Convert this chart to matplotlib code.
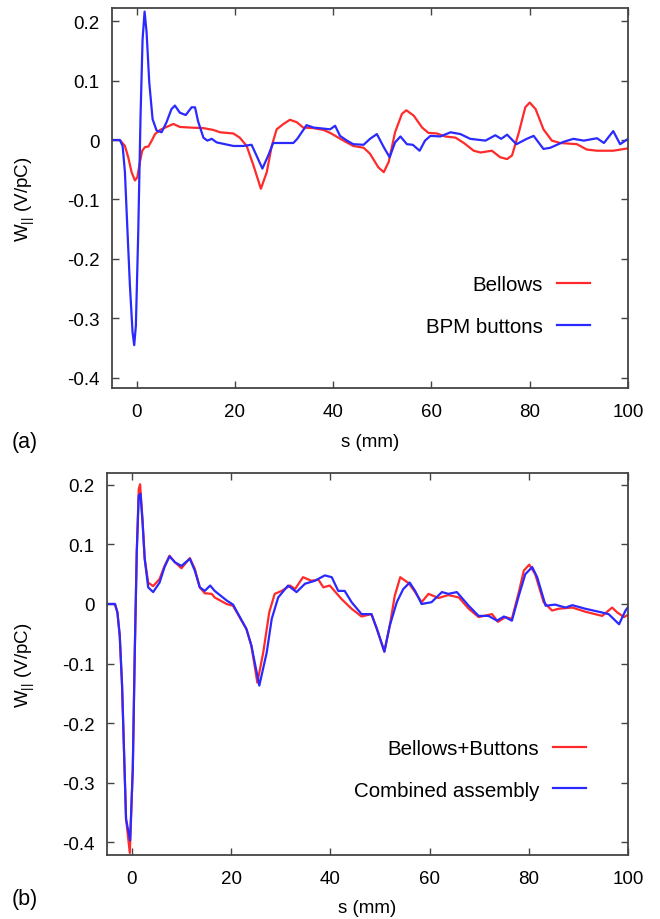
import numpy as np
import matplotlib
matplotlib.use("Agg")
import matplotlib.pyplot as plt

plt.rcParams["font.family"] = ["Liberation Sans", "DejaVu Sans"]
plt.rcParams["mathtext.fontset"] = "custom"
plt.rcParams["mathtext.rm"] = "Liberation Sans"
plt.rcParams["mathtext.default"] = "regular"

# (a) wake potentials, s in mm, W in V/pC
s_bellows = [-5, -3.4, -2.37, -1.7, -1.02, -0.34, 0.14, 0.68, 1.15, 1.7, 2.4, 3.08, 3.76, 4.8,
             6.1, 7.5, 8.8, 10.8, 13.6, 15.6, 17.0, 19.7, 21.0, 22.4, 23.8, 25.3, 26.5, 27.5,
             28.5, 29.9, 31.2, 32.6, 33.9, 36.0, 38.0, 39.4, 42.1, 44.1, 46.2, 47.5, 49.2,
             50.3, 51.3, 52.6, 54.0, 54.9, 56.4, 58.1, 59.4, 61.1, 62.8, 64.9, 66.6, 68.6,
             70.0, 72.3, 74.0, 75.4, 76.4, 77.8, 79.1, 80.0, 81.2, 82.8, 84.5, 86.2, 89.6,
             91.6, 93.7, 97.0, 100]
w_bellows = [0, 0, -0.010, -0.029, -0.054, -0.068, -0.063, -0.037, -0.018, -0.012, -0.011,
             -0.001, 0.010, 0.017, 0.022, 0.027, 0.022, 0.021, 0.020, 0.017, 0.013, 0.011,
             0.004, -0.010, -0.043, -0.082, -0.054, -0.010, 0.018, 0.027, 0.034, 0.030, 0.021,
             0.020, 0.017, 0.012, -0.001, -0.010, -0.013, -0.023, -0.046, -0.054, -0.037,
             0.013, 0.044, 0.050, 0.041, 0.021, 0.012, 0.011, 0.006, 0.004, -0.005, -0.018,
             -0.021, -0.018, -0.029, -0.032, -0.026, 0.013, 0.055, 0.063, 0.052, 0.018, -0.001,
             -0.005, -0.007, -0.016, -0.018, -0.018, -0.014]

s_bpm = [-5, -3.4, -2.84, -2.37, -1.9, -1.36, -0.82, -0.48, -0.14, 0.34, 0.81, 1.22, 1.63,
         2.04, 2.58, 3.26, 4.07, 5.09, 6.1, 7.1, 7.8, 8.8, 10.0, 11.2, 11.9, 12.5, 13.6, 14.4,
         15.3, 16.3, 19.7, 21.7, 23.4, 24.4, 25.6, 26.8, 27.8, 31.9, 32.7, 34.6, 36.0, 39.4,
         40.4, 41.4, 42.8, 44.1, 46.2, 47.5, 48.9, 50.3, 51.5, 52.6, 53.7, 55.0, 56.2, 57.6,
         58.7, 59.8, 61.8, 63.9, 65.9, 67.9, 71.0, 73.0, 74.2, 75.4, 77.3, 79.4, 80.8, 82.8,
         84.2, 86.9, 88.9, 91.0, 93.7, 95.1, 97.0, 98.4, 100]
w_bpm = [0, 0, -0.010, -0.054, -0.144, -0.244, -0.323, -0.345, -0.312, -0.155, 0.041, 0.169,
         0.216, 0.181, 0.097, 0.035, 0.016, 0.013, 0.030, 0.052, 0.058, 0.046, 0.042, 0.055,
         0.055, 0.032, 0.004, -0.001, 0.002, -0.004, -0.010, -0.010, -0.008, -0.026, -0.048,
         -0.026, -0.005, -0.005, 0.002, 0.025, 0.021, 0.018, 0.024, 0.007, -0.001, -0.007,
         -0.008, 0.002, 0.010, -0.012, -0.029, -0.004, 0.006, -0.007, -0.008, -0.018, -0.001,
         0.007, 0.006, 0.013, 0.010, 0.002, -0.001, 0.008, 0.002, 0.009, -0.007, 0.002, 0.007,
         -0.015, -0.013, -0.003, 0.002, -0.001, 0.003, -0.005, 0.015, -0.007, 0.002]

# (b) sum of single wakes vs. full assembly
s_sum = [-5, -3.4, -2.9, -2.43, -1.96, -1.56, -1.16, -0.4, 0.2, 0.6, 1.0, 1.4, 1.67, 2.15, 2.6,
         3.3, 4.3, 5.6, 6.6, 7.6, 8.7, 10.0, 11.7, 12.7, 13.7, 14.7, 16.1, 16.7, 19.1, 20.4,
         23.1, 24.1, 25.3, 26.5, 27.7, 28.8, 30.2, 31.9, 32.9, 34.5, 36.2, 37.6, 38.6, 39.9,
         42.3, 44.3, 46.3, 48.3, 49.4, 50.9, 52.0, 53.0, 54.1, 55.8, 57.1, 58.4, 59.8, 61.8,
         63.8, 65.9, 67.9, 69.9, 72.6, 73.8, 75.3, 76.6, 78.0, 79.0, 80.1, 81.3, 83.0, 84.7,
         86.0, 88.8, 91.4, 94.8, 96.8, 97.8, 99.2, 100]
w_sum = [0, 0, -0.014, -0.053, -0.137, -0.249, -0.361, -0.418, -0.277, -0.081, 0.087, 0.193,
         0.201, 0.143, 0.076, 0.036, 0.030, 0.042, 0.064, 0.081, 0.070, 0.060, 0.077, 0.059,
         0.028, 0.018, 0.017, 0.011, 0.000, -0.003, -0.042, -0.070, -0.132, -0.081, -0.014,
         0.017, 0.022, 0.031, 0.025, 0.045, 0.039, 0.041, 0.028, 0.031, 0.008, -0.008, -0.021,
         -0.017, -0.042, -0.080, -0.036, 0.014, 0.045, 0.035, 0.020, 0.003, 0.017, 0.010,
         0.015, 0.011, -0.008, -0.022, -0.017, -0.030, -0.022, -0.025, 0.020, 0.056, 0.066,
         0.050, 0.003, -0.011, -0.008, -0.006, -0.013, -0.020, -0.006, -0.014, -0.022, -0.018]

s_comb = [-5, -3.4, -2.9, -2.43, -1.96, -1.56, -1.16, -0.34, 0.2, 0.6, 1.0, 1.4, 1.75, 2.15,
          2.6, 3.3, 4.3, 5.6, 6.6, 7.6, 8.7, 10.0, 11.7, 12.7, 13.7, 14.7, 15.8, 16.7, 19.1,
          20.4, 23.1, 24.1, 25.7, 27.2, 28.2, 29.5, 31.5, 33.2, 34.9, 36.9, 38.9, 40.3, 41.6,
          42.9, 44.3, 46.3, 48.3, 49.4, 50.9, 52.0, 53.4, 54.7, 56.0, 57.1, 58.4, 60.4, 62.5,
          63.8, 65.5, 67.9, 69.9, 71.9, 73.6, 75.0, 76.6, 78.0, 79.3, 80.7, 81.7, 83.4, 85.3,
          87.4, 88.8, 91.4, 94.1, 96.1, 98.2, 99.5, 100]
w_comb = [0, 0, -0.014, -0.053, -0.137, -0.249, -0.361, -0.397, -0.277, -0.081, 0.087, 0.182,
          0.185, 0.140, 0.076, 0.028, 0.020, 0.036, 0.062, 0.080, 0.070, 0.064, 0.076, 0.056,
          0.028, 0.022, 0.031, 0.022, 0.006, -0.001, -0.042, -0.070, -0.137, -0.081, -0.025,
          0.011, 0.031, 0.020, 0.034, 0.039, 0.048, 0.045, 0.022, 0.022, 0.003, -0.017,
          -0.017, -0.042, -0.080, -0.036, 0.003, 0.025, 0.036, 0.022, 0.000, 0.003, 0.020,
          0.017, 0.020, -0.003, -0.020, -0.020, -0.028, -0.021, -0.028, 0.014, 0.050, 0.062,
          0.045, -0.003, -0.001, -0.006, -0.002, -0.008, -0.013, -0.017, -0.034, -0.011, -0.005]

xticks = [0, 20, 40, 60, 80, 100]
yticks = [-0.4, -0.3, -0.2, -0.1, 0, 0.1, 0.2]
ytick_labels = ["-0.4", "-0.3", "-0.2", "-0.1", "0", "0.1", "0.2"]

RED = "#ff2a2a"
BLUE = "#2a2aff"
FS = 13.5
LEG_FS = 14.8


def style_axes(ax, ylim, label_x):
    ax.set_xlim(-5, 100)
    ax.set_ylim(*ylim)
    ax.set_xticks(xticks)
    ax.set_yticks(yticks, labels=ytick_labels)
    ax.tick_params(direction="in", top=True, right=True, length=5, width=1,
                   color="#444444", labelsize=FS)
    ax.tick_params(axis="x", pad=11)
    ax.tick_params(axis="y", pad=9)
    for sp in ax.spines.values():
        sp.set_color("#444444")
        sp.set_linewidth(1.3)
    ax.set_xlabel("s (mm)", fontsize=FS, labelpad=9)
    ax.set_ylabel(r"W$_{||}$ (V/pC)", fontsize=FS)
    ax.yaxis.set_label_coords(label_x, 0.5)


fig = plt.figure(figsize=(6.6, 9.2), dpi=100)
ax1 = fig.add_axes([0.1697, 0.5772, 0.7818, 0.413])
ax2 = fig.add_axes([0.1621, 0.0699, 0.7894, 0.4149])

line_kw = dict(lw=1.6, solid_joinstyle="round")
ax1.plot(s_bellows, w_bellows, color=RED, label="Bellows", **line_kw)
ax1.plot(s_bpm, w_bpm, color=BLUE, label="BPM buttons", **line_kw)
style_axes(ax1, (-0.417, 0.222), -0.145)

ax2.plot(s_sum, w_sum, color=RED, label="Bellows+Buttons", **line_kw)
ax2.plot(s_comb, w_comb, color=BLUE, label="Combined assembly", **line_kw)
style_axes(ax2, (-0.421, 0.220), -0.134)

for ax, anchor in ((ax1, (0.926, 0.297)), (ax2, (0.92, 0.303))):
    ax.legend(loc="upper right", bbox_to_anchor=anchor, frameon=False, markerfirst=False,
              fontsize=LEG_FS, handlelength=1.6, handletextpad=0.7, labelspacing=1.1,
              borderpad=0, borderaxespad=0)

fig.text(12 / 660, 1 - 443 / 920, "(a)", fontsize=15.5, va="center", ha="left")
fig.text(12 / 660, 1 - 900 / 920, "(b)", fontsize=15.5, va="center", ha="left")

fig.savefig("out.png", dpi=100)
plt.close(fig)
